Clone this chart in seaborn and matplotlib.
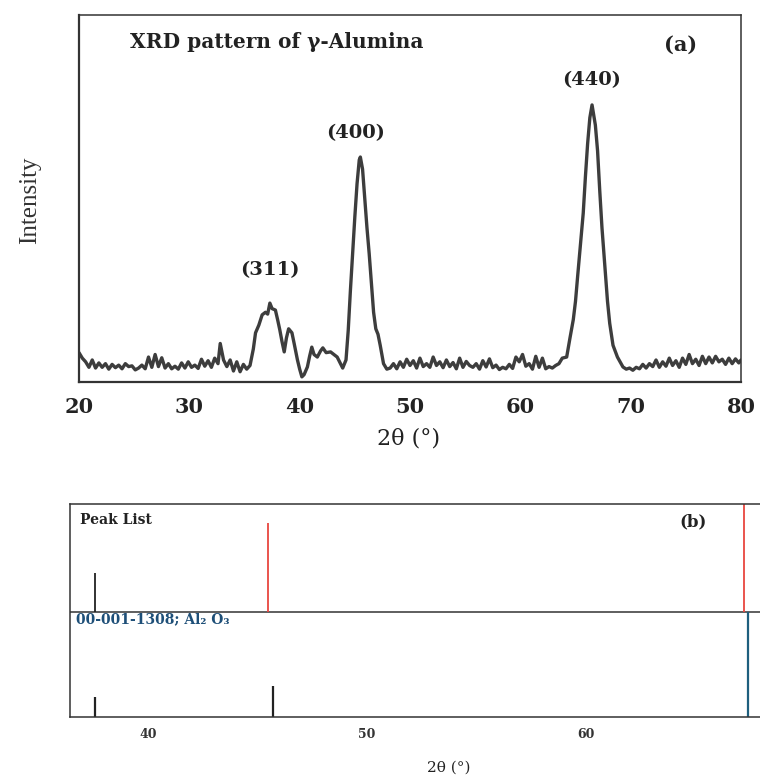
import matplotlib
matplotlib.use("Agg")
import matplotlib.pyplot as plt
from matplotlib.ticker import MultipleLocator
import seaborn as sns
import pandas as pd

# ---------------- data ----------------
two_theta = [
    20.0, 20.3, 20.6, 20.9, 21.2, 21.5, 21.8, 22.1, 22.4, 22.7, 23.0, 23.3, 23.6, 23.9,
    24.2, 24.5, 24.8, 25.1, 25.4, 25.7, 26.0, 26.3, 26.6, 26.9, 27.2, 27.5, 27.8, 28.1,
    28.4, 28.7, 29.0, 29.3, 29.6, 29.9, 30.2, 30.5, 30.8, 31.1, 31.4, 31.7, 32.0, 32.3,
    32.6, 32.8, 33.1, 33.4, 33.7, 34.0, 34.3, 34.6, 34.9, 35.2, 35.5, 35.8, 36.0, 36.3,
    36.6, 36.9, 37.1, 37.3, 37.5, 37.8, 38.0, 38.2, 38.4, 38.6, 38.8, 39.0, 39.3, 39.5,
    39.8, 40.0, 40.2, 40.4, 40.7, 40.9, 41.1, 41.3, 41.6, 41.9, 42.1, 42.4, 42.8, 43.1,
    43.4, 43.7, 43.9, 44.2, 44.4, 44.6, 44.8, 45.0, 45.2, 45.4, 45.5, 45.7, 45.9, 46.1,
    46.3, 46.5, 46.7, 46.9, 47.1, 47.3, 47.6, 47.9, 48.2, 48.5, 48.8, 49.1, 49.4, 49.7,
    50.0, 50.3, 50.6, 50.9, 51.2, 51.5, 51.8, 52.1, 52.4, 52.7, 53.0, 53.3, 53.6, 53.9,
    54.2, 54.5, 54.8, 55.1, 55.4, 55.7, 56.0, 56.3, 56.6, 56.9, 57.2, 57.5, 57.8, 58.1,
    58.4, 58.7, 59.0, 59.3, 59.6, 59.9, 60.2, 60.5, 60.8, 61.1, 61.4, 61.7, 62.0, 62.3,
    62.6, 62.9, 63.2, 63.5, 63.8, 64.2, 64.5, 64.8, 65.0, 65.2, 65.5, 65.7, 65.9, 66.1,
    66.3, 66.5, 66.8, 67.0, 67.2, 67.4, 67.7, 67.9, 68.1, 68.4, 68.8, 69.3, 69.6, 69.9,
    70.2, 70.5, 70.8, 71.1, 71.4, 71.7, 72.0, 72.3, 72.6, 72.9, 73.2, 73.5, 73.8, 74.1,
    74.4, 74.7, 75.0, 75.3, 75.6, 75.9, 76.2, 76.5, 76.8, 77.1, 77.4, 77.7, 78.0, 78.3,
    78.6, 78.9, 79.2, 79.5, 79.8, 80.0,
]
intensity = [
    8.0, 6.5, 5.5, 4.0, 6.0, 3.8, 5.2, 4.0, 5.0, 3.5, 4.8, 3.9, 4.6, 3.6,
    5.0, 4.2, 4.4, 3.3, 3.8, 4.6, 3.6, 6.8, 4.0, 7.5, 4.2, 6.6, 3.8, 5.0,
    3.6, 4.3, 3.5, 5.2, 3.8, 5.5, 4.0, 4.6, 3.7, 6.2, 4.3, 5.8, 4.0, 6.5,
    5.0, 10.5, 6.0, 4.2, 6.0, 3.0, 5.5, 2.8, 4.8, 3.5, 4.5, 9.0, 13.4, 15.5,
    18.3, 19.0, 18.5, 21.5, 20.0, 19.6, 17.0, 14.2, 11.0, 8.2, 12.0, 14.5, 13.4, 10.5,
    6.0, 3.5, 1.4, 2.0, 4.1, 7.0, 9.5, 7.5, 6.8, 8.5, 9.3, 8.0, 8.2, 7.5,
    6.8, 5.0, 3.8, 6.0, 14.0, 25.0, 35.0, 45.0, 54.0, 60.5, 61.3, 58.0, 50.0, 42.0,
    35.0, 27.0, 19.0, 14.5, 13.0, 10.0, 5.0, 3.5, 3.8, 5.0, 3.6, 5.5, 4.0, 6.2,
    4.5, 5.8, 3.8, 6.5, 4.2, 5.0, 4.0, 6.8, 4.5, 5.5, 3.9, 6.0, 4.2, 5.3,
    3.6, 6.5, 4.0, 5.6, 4.5, 4.0, 5.0, 3.5, 5.8, 4.1, 6.3, 3.9, 4.6, 3.4,
    4.0, 3.6, 4.8, 3.7, 6.8, 5.5, 7.5, 4.3, 5.0, 3.5, 7.0, 4.0, 6.5, 3.6,
    4.2, 3.8, 4.5, 5.0, 6.5, 6.8, 12.0, 17.0, 22.0, 29.0, 39.0, 46.0, 56.0, 65.0,
    72.0, 75.5, 70.0, 63.0, 52.0, 42.0, 30.0, 22.0, 16.0, 10.0, 6.8, 4.1, 3.5, 3.8,
    3.2, 4.0, 3.6, 4.8, 3.8, 5.0, 4.2, 6.0, 4.0, 5.5, 4.3, 6.5, 4.5, 5.8,
    4.0, 6.5, 4.8, 7.5, 5.0, 6.2, 4.5, 7.0, 5.0, 6.8, 5.2, 7.0, 5.5, 6.2,
    4.8, 6.5, 5.0, 6.3, 5.2, 6.0,
]

peak_labels = ["(311)", "(400)", "(440)"]
peak_label_x = [37.3, 45.1, 66.5]
peak_label_y = [30.5, 67.8, 82.3]
top_xticks = [20, 30, 40, 50, 60, 70, 80]

# panel (b): stick patterns
peaklist_pos = [37.58, 45.5, 67.24]
peaklist_h = [0.37, 0.85, 1.03]
peaklist_col = ["#222222", "#e8463f", "#e8463f"]
ref_pos = [37.58, 45.7, 67.38]
ref_h = [0.19, 0.295, 1.0]
ref_col = ["#222222", "#222222", "#1e5f7e"]
bottom_xticks = [40, 50, 60]

# ---------------- figure ----------------
sns.set_theme(style="white")
plt.rcParams["font.family"] = ["DejaVu Serif"]
plt.rcParams["mathtext.fontset"] = "dejavuserif"

fig = plt.figure(figsize=(7.6, 7.79), dpi=100)
W, H = 760.0, 779.0

# ---- panel (a)
ax1 = fig.add_axes([79 / W, 1 - 382 / H, 662 / W, 367 / H])
df = pd.DataFrame({"two_theta": two_theta, "intensity": intensity})
sns.lineplot(data=df, x="two_theta", y="intensity", ax=ax1, color="#3d3d3d",
             linewidth=2.4, estimator=None, sort=False)
ax1.set_xlim(20, 80)
ax1.set_ylim(0, 100)
ax1.set_xticks(top_xticks)
ax1.xaxis.set_minor_locator(MultipleLocator(5))
ax1.set_yticks([])
ax1.tick_params(axis="x", which="major", direction="out", length=4, width=1.1,
                pad=7, labelsize=15, colors="#222222")
ax1.tick_params(axis="x", which="minor", direction="out", length=3, width=1.0,
                colors="#222222")
for lab in ax1.get_xticklabels():
    lab.set_fontweight("bold")
for sp in ax1.spines.values():
    sp.set_visible(True)
    sp.set_color("#333333")
    sp.set_linewidth(1.1)
ax1.spines["left"].set_linewidth(1.6)
ax1.spines["bottom"].set_linewidth(1.6)
ax1.set_xlabel("")
ax1.set_ylabel("")

fig.text(30 / W, 1 - 200 / H, "Intensity", rotation=90, ha="center", va="center",
         fontsize=18, family=["Liberation Serif"], color="#333333")
fig.text(409 / W, 1 - 438 / H, "2θ (°)", ha="center", va="center",
         fontsize=16, color="#222222")

ax1.text((130 - 79) / 662, (382 - 42) / 367, "XRD pattern of γ-Alumina",
         transform=ax1.transAxes, ha="left", va="center", fontsize=14.5,
         fontweight="bold", color="#222222")
ax1.text((681 - 79) / 662, (382 - 45) / 367, "(a)", transform=ax1.transAxes,
         ha="center", va="center", fontsize=15, fontweight="bold", color="#222222")
for lab, x, y in zip(peak_labels, peak_label_x, peak_label_y):
    ax1.text(x, y, lab, ha="center", va="center", fontsize=14,
             fontweight="bold", color="#222222")

# ---- panel (b)
ax2 = fig.add_axes([70 / W, 1 - 717 / H, 690 / W, 213 / H])
ax2.set_xlim(36.45, 67.95)
ax2.set_ylim(0, 2.03)
ax2.axhline(1.0, color="#333333", linewidth=1.1)
ax2.vlines(peaklist_pos, [1.0] * len(peaklist_pos),
           [1.0 + h for h in peaklist_h], colors=peaklist_col, linewidth=1.3)
ax2.vlines(ref_pos, [0.0] * len(ref_pos), ref_h, colors=ref_col, linewidth=1.6)
ax2.set_xticks(bottom_xticks)
ax2.xaxis.set_minor_locator(MultipleLocator(2))
ax2.set_yticks([])
ax2.tick_params(axis="x", which="major", direction="out", length=4, width=0.9,
                pad=4, labelsize=9, colors="#333333")
ax2.tick_params(axis="x", which="minor", direction="out", length=2, width=0.7,
                colors="#555555")
for lab in ax2.get_xticklabels():
    lab.set_fontweight("bold")
for sp in ax2.spines.values():
    sp.set_color("#333333")
    sp.set_linewidth(1.1)
ax2.spines["right"].set_visible(False)

ax2.text((80 - 70) / 690, (717 - 520) / 213, "Peak List", transform=ax2.transAxes,
         ha="left", va="center", fontsize=10, fontweight="bold", color="#222222")
ax2.text((693 - 70) / 690, (717 - 522) / 213, "(b)", transform=ax2.transAxes,
         ha="center", va="center", fontsize=12, fontweight="bold", color="#222222")
ax2.text((76 - 70) / 690, (717 - 619) / 213, "00-001-1308; Al₂ O₃",
         transform=ax2.transAxes, ha="left", va="center", fontsize=10,
         fontweight="bold", color="#1e4f78", family=["DejaVu Serif"])
fig.text(449 / W, 1 - 768 / H, "2θ (°)", ha="center", va="center",
         fontsize=11, color="#222222")

fig.savefig("out.png", dpi=100, facecolor="white")
